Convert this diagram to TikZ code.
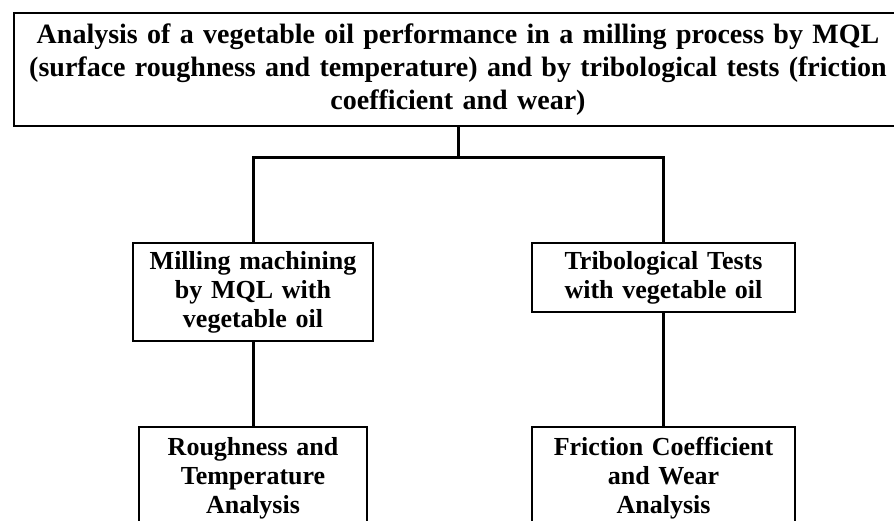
\documentclass[tikz,border=0pt]{standalone}
\usepackage{fontspec}
\setmainfont{Liberation Serif}
\begin{document}
\begin{tikzpicture}[x=1pt,y=-1pt,
  box/.style={draw, line width=2pt, outer sep=0pt, inner sep=0pt, anchor=north west, align=center},
  bigtext/.style={font=\fontsize{28}{33}\selectfont\bfseries},
  smalltext/.style={font=\fontsize{26}{29}\selectfont\bfseries},
  conn/.style={line width=3pt, line join=miter}]
\useasboundingbox (0,0) rectangle (894,520);
\clip (0,0) rectangle (894,520);
\node[box, bigtext, minimum width=888, minimum height=113, text width=884] (top) at (14,13)
  {Analysis of a vegetable oil performance in a milling process by MQL\\(surface roughness and temperature) and by tribological tests (friction\\coefficient and wear)};
\node[box, smalltext, minimum width=240, minimum height=98, text width=238] (mid1) at (133,243)
  {Milling machining\\by MQL with\\vegetable oil};
\node[box, smalltext, minimum width=263, minimum height=69, text width=261] (mid2) at (532,243)
  {Tribological Tests\\with vegetable oil};
\node[box, smalltext, minimum width=228, minimum height=103, text width=226] (bot1) at (139,427)
  {Roughness and\\Temperature\\Analysis};
\node[box, smalltext, minimum width=263, minimum height=103, text width=261] (bot2) at (532,427)
  {Friction Coefficient\\and Wear\\Analysis};
\path (top.south) ++(0,31) coordinate (hub);
\draw[conn] (top.south) -- (hub);
\draw[conn] (mid1.north) |- (hub) -| (mid2.north);
\draw[conn] (mid1.south) -- (bot1.north);
\draw[conn] (mid2.south) -- (bot2.north);
\end{tikzpicture}
\end{document}
